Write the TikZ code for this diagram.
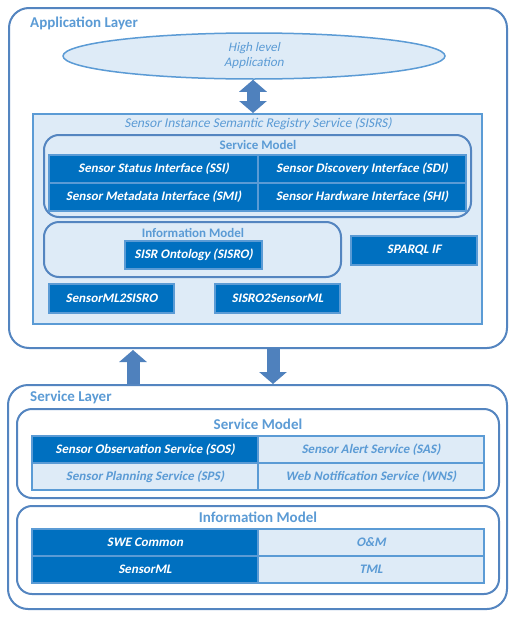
\documentclass[tikz,border=0pt]{standalone}
\usepackage{fontspec}
\setmainfont{Carlito}[AutoFakeSlant=0.2,BoldItalicFont={Carlito Bold},BoldItalicFeatures={FakeSlant=0.2}]
\usetikzlibrary{arrows.meta,shapes.geometric}
\definecolor{edgeblue}{RGB}{84,133,192}
\definecolor{textblue}{RGB}{91,155,213}
\definecolor{paleblue}{RGB}{222,235,247}
\definecolor{darkblue}{RGB}{0,112,192}
\definecolor{arrowblue}{RGB}{79,129,189}
\tikzset{
  layer/.style={draw=edgeblue,line width=2pt,rounded corners=20pt,fill=white},
  panel/.style={draw=edgeblue,line width=2pt,rounded corners=15pt},
  darkcell/.style={draw=textblue,line width=1.5pt,fill=darkblue,text=white,inner sep=0pt,
    font=\fontsize{13}{15}\selectfont\bfseries\itshape},
  palecell/.style={draw=textblue,line width=1.5pt,fill=paleblue,text=textblue,inner sep=0pt,
    font=\fontsize{13}{15}\selectfont\bfseries\itshape},
  title/.style={text=textblue,inner sep=0pt,font=\fontsize{15}{17}\selectfont\bfseries},
  subtitle/.style={text=textblue,inner sep=0pt,font=\fontsize{13}{15}\selectfont\bfseries},
  blockarrow/.style={draw=arrowblue,line width=13pt,arrows={-Triangle[width=27pt,length=12pt]}}
}
\begin{document}
\begin{tikzpicture}[x=1pt,y=-1pt]
\useasboundingbox[fill=white] (0,0) rectangle (516,624);
% application layer
\node[layer,minimum width=498,minimum height=340] (app) at (258,178) {};
\node[title,anchor=west] (applbl) at (30,23) {Application Layer};
\node[ellipse,draw=textblue,line width=1.5pt,fill=paleblue,minimum width=382,minimum height=46,
  inner sep=0pt,text=textblue,align=center,font=\fontsize{13}{15}\selectfont\itshape] (hla) at (254,56) {High level\\Application};
\node[draw=textblue,line width=2pt,fill=paleblue,minimum width=449,minimum height=210] (sisrs) at (257.5,219) {};
\node[text=textblue,inner sep=0pt,font=\fontsize{13.4}{15}\selectfont\itshape] (sisrslbl) at (258,124)
  {Sensor Instance Semantic Registry Service (SISRS)};
\node[panel,minimum width=427,minimum height=82] (svcmodA) at (257.5,176) {};
\node[subtitle] (svcmodAlbl) at (258,145) {Service Model};
\node[darkcell,minimum width=209,minimum height=28] (ssi) at (153.5,169) {Sensor Status Interface (SSI)};
\node[darkcell,minimum width=208,minimum height=28] (sdi) at (362,169) {Sensor Discovery Interface (SDI)};
\node[darkcell,minimum width=209,minimum height=28] (smi) at (153.5,197) {Sensor Metadata Interface (SMI)};
\node[darkcell,minimum width=208,minimum height=28] (shi) at (362,197) {Sensor Hardware Interface (SHI)};
\node[panel,minimum width=297,minimum height=55] (infmodA) at (192.5,249.5) {};
\node[subtitle] (infmodAlbl) at (193,233) {Information Model};
\node[darkcell,minimum width=137,minimum height=28] (sisro) at (193.5,255) {SISR Ontology (SISRO)};
\node[darkcell,minimum width=126,minimum height=29] (sparql) at (414,250.5) {SPARQL IF};
\node[darkcell,minimum width=125,minimum height=29] (mltosisro) at (111.5,298.5) {SensorML2SISRO};
\node[darkcell,minimum width=125,minimum height=29] (sisrotoml) at (277.5,298.5) {SISRO2SensorML};
% service layer
\node[layer,minimum width=499,minimum height=224] (svc) at (257.5,497) {};
\node[title,anchor=west] (svclbl) at (30,397) {Service Layer};
\node[panel,minimum width=482,minimum height=89] (svcmodB) at (258,453.5) {};
\node[title] (svcmodBlbl) at (258,424) {Service Model};
\node[darkcell,minimum width=226,minimum height=27] (sos) at (145,449.5) {Sensor Observation Service (SOS)};
\node[palecell,minimum width=226,minimum height=27] (sas) at (371,449.5) {Sensor Alert Service (SAS)};
\node[palecell,minimum width=226,minimum height=27] (sps) at (145,476.5) {Sensor Planning Service (SPS)};
\node[palecell,minimum width=226,minimum height=27] (wns) at (371,476.5) {Web Notification Service (WNS)};
\node[panel,minimum width=482,minimum height=88] (infmodB) at (258,550) {};
\node[title] (infmodBlbl) at (258,517) {Information Model};
\node[darkcell,minimum width=226,minimum height=27] (swe) at (145,542.5) {SWE Common};
\node[palecell,minimum width=226,minimum height=27] (om) at (371,542.5) {O\&M};
\node[darkcell,minimum width=226,minimum height=27] (sml) at (145,569.5) {SensorML};
\node[palecell,minimum width=226,minimum height=27] (tml) at (371,569.5) {TML};
% arrows
\coordinate (upx) at (133,0);
\coordinate (downx) at (273,0);
\coordinate (hlax) at (253,0);
\draw[blockarrow,arrows={Triangle[width=27pt,length=12pt]-Triangle[width=27pt,length=12pt]}]
  (hla.south -| hlax) -- (sisrs.north -| hlax);
\draw[blockarrow] (svc.north -| upx) -- ([yshift=-1pt]app.south -| upx);
\draw[blockarrow] ([yshift=1pt]app.south -| downx) -- (svc.north -| downx);
\end{tikzpicture}
\end{document}
